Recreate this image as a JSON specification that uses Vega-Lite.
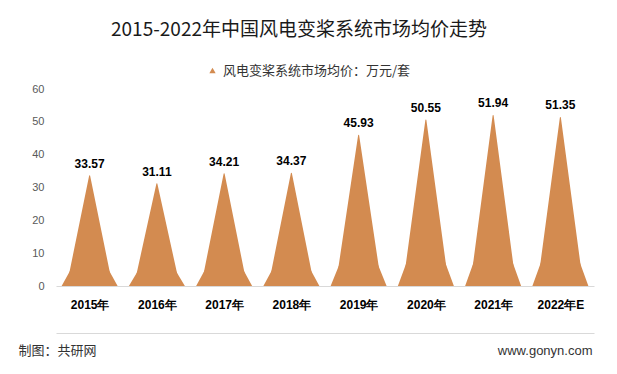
{
  "$schema": "https://vega.github.io/schema/vega-lite/v6.json",
  "width": 538,
  "height": 197,
  "autosize": {"type": "none"},
  "padding": {"left": 56, "top": 89, "right": 23, "bottom": 88},
  "background": "white",
  "title": {
    "text": "2015-2022年中国风电变桨系统市场均价走势",
    "fontSize": 19,
    "font": "Noto Sans CJK SC",
    "fontWeight": "normal",
    "color": "#1a1a1a",
    "anchor": "middle",
    "frame": "group",
    "dx": -26,
    "offset": 24
  },
  "config": {"view": {"stroke": null}, "font": "Noto Sans CJK SC"},
  "data": {
    "values": [
      {"year": "2015年", "start": 0, "price": 33.57},
      {"year": "2016年", "start": 0, "price": 31.11},
      {"year": "2017年", "start": 0, "price": 34.21},
      {"year": "2018年", "start": 0, "price": 34.37},
      {"year": "2019年", "start": 0, "price": 45.93},
      {"year": "2020年", "start": 0, "price": 50.55},
      {"year": "2021年", "start": 0, "price": 51.94},
      {"year": "2022年E", "start": 0, "price": 51.35}
    ]
  },
  "transform": [{"fold": ["start", "price"], "as": ["point", "v"]}],
  "layer": [
    {
      "mark": {"type": "trail", "clip": true, "color": "#D38B50"},
      "encoding": {
        "x": {
          "field": "year", "type": "nominal", "sort": null,
          "scale": {"type": "point", "padding": 0.5},
          "axis": {
            "orient": "bottom", "offset": 47, "labels": false, "ticks": false,
            "domain": true, "domainColor": "#d9d9d9",
            "title": "www.gonyn.com", "titleAnchor": "end", "titleAlign": "right",
            "titleBaseline": "middle", "titleX": 536, "titleY": 17,
            "titleFontSize": 13, "titleFont": "Liberation Sans",
            "titleFontWeight": "normal", "titleColor": "#333333"
          }
        },
        "y": {"field": "v", "type": "quantitative", "scale": {"domain": [0, 133.3]}, "axis": null},
        "size": {"field": "point", "type": "ordinal", "scale": {"domain": ["start", "price"], "range": [56, 0]}, "legend": null},
        "detail": {"field": "year"}
      }
    },
    {
      "mark": {"type": "trail", "clip": true},
      "encoding": {
        "x": {
          "field": "year", "type": "nominal", "sort": null,
          "scale": {"type": "point", "padding": 0.5},
          "axis": {
            "orient": "bottom", "labelFontWeight": "bold", "labelFontSize": 12,
            "labelColor": "#000000", "labelFont": "Liberation Sans", "labelPadding": 13,
            "labelAngle": 0, "ticks": false, "domainColor": "#d9d9d9",
            "title": "制图：共研网", "titleAnchor": "start", "titleAlign": "left",
            "titleBaseline": "middle", "titleX": -38, "titleY": 64,
            "titleFontSize": 13, "titleFontWeight": "normal", "titleColor": "#333333"
          }
        },
        "y": {
          "field": "v", "type": "quantitative", "scale": {"domain": [0, 60]},
          "axis": {
            "values": [0, 10, 20, 30, 40, 50, 60], "grid": false, "ticks": false,
            "domain": false, "labelColor": "#595959", "labelFontSize": 11,
            "labelFont": "Liberation Sans", "labelPadding": 12, "title": null
          }
        },
        "size": {"field": "point", "type": "ordinal", "scale": {"domain": ["start", "price"], "range": [46, 0]}, "legend": null},
        "detail": {"field": "year"},
        "color": {
          "datum": "风电变桨系统市场均价：万元/套",
          "scale": {"range": ["#D38B50"]},
          "legend": {
            "orient": "none", "legendX": 150, "legendY": -25, "title": null,
            "symbolType": "triangle-up", "symbolSize": 40, "symbolStrokeWidth": 0,
            "symbolFillColor": "#D38B50", "labelLimit": 400,
            "labelFontSize": 13, "labelColor": "#333333", "labelFont": "Noto Sans CJK SC"
          }
        }
      }
    },
    {
      "transform": [{"filter": {"field": "point", "equal": "price"}}],
      "mark": {"type": "text", "baseline": "bottom", "dy": -5, "fontWeight": "bold", "fontSize": 12, "font": "Liberation Sans", "color": "#000000"},
      "encoding": {
        "x": {"field": "year", "type": "nominal", "sort": null, "scale": {"type": "point", "padding": 0.5}, "axis": null},
        "y": {"field": "v", "type": "quantitative", "scale": {"domain": [0, 60]}, "axis": null},
        "text": {"field": "v", "type": "quantitative", "format": ".2f"}
      }
    }
  ],
  "resolve": {
    "scale": {"y": "independent", "size": "independent"},
    "axis": {"x": "independent", "y": "independent"}
  }
}
